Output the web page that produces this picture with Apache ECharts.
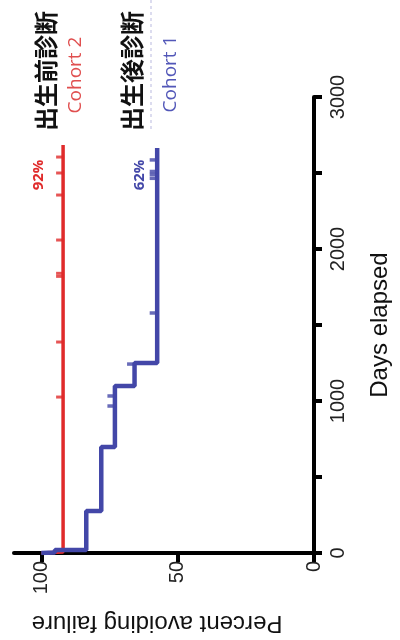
<!DOCTYPE html>
<html><head><meta charset="utf-8">
<script src="https://cdn.jsdelivr.net/npm/echarts@6/dist/echarts.min.js"></script>
<style>html,body{margin:0;padding:0;background:#fff}#c{width:400px;height:640px}</style>
</head><body><div id="c"></div>
<script>
// Kaplan-Meier data (days, percent)
const cohort2Times = [0, 7];
const cohort2Surv = [100, 92];
const cohort2End = 2685;
const cohort2Censor = [1026, 1388, 1820, 1840, 2059, 2355, 2500, 2605];

const cohort1Times = [0, 3, 20, 276, 697, 1099, 1250];
const cohort1Surv = [100, 95, 83.5, 78, 73, 65.8, 57.5];
const cohort1End = 2665;
const cohort1Censor = [967, 1033, 1243, 1579, 2465, 2490, 2510, 2586];

const dayTicks = [0, 1000, 2000, 3000];
const pctTicks = [0, 50, 100];

function stepPath(times, surv, end) {
  const pts = [[surv[0], times[0]]];
  for (let i = 1; i < times.length; i++) {
    pts.push([surv[i - 1], times[i]]);
    pts.push([surv[i], times[i]]);
  }
  pts.push([surv[surv.length - 1], end]);
  return pts;
}
function survAt(times, surv, t) {
  let s = surv[0];
  for (let i = 0; i < times.length; i++) if (times[i] <= t) s = surv[i];
  return s;
}
const RED = '#e02b2b', BLUE = '#4347a8';
const chart = echarts.init(document.getElementById('c'));
chart.setOption({
  animation: false,
  grid: {left: 14, right: 80, top: 97, bottom: 87},
  xAxis: {
    type: 'value', inverse: true, min: 0, max: 110,
    splitLine: {show: false},
    axisLine: {lineStyle: {color: '#000', width: 4}},
    axisTick: {customValues: pctTicks, length: 9, lineStyle: {width: 4, color: '#000'}},
    axisLabel: {customValues: pctTicks, rotate: 90, color: '#222', fontSize: 20, fontFamily: 'Liberation Sans', margin: 8},
    name: 'Percent avoiding failure', nameLocation: 'middle', nameRotate: 180, nameGap: 58,
    nameTextStyle: {fontSize: 24, color: '#111', fontFamily: 'Liberation Sans', padding: [0, 0, 0, 14]}
  },
  yAxis: {
    type: 'value', min: 0, max: 3000, interval: 500, position: 'right',
    splitLine: {show: false},
    axisLine: {lineStyle: {color: '#000', width: 4}},
    axisTick: {length: 8, lineStyle: {width: 4, color: '#000'}},
    axisLabel: {rotate: 90, color: '#222', fontSize: 20, fontFamily: 'Liberation Sans', margin: 14,
      formatter: v => dayTicks.includes(v) ? String(v) : ''},
    name: 'Days elapsed', nameLocation: 'middle', nameRotate: 90, nameGap: 54,
    nameTextStyle: {fontSize: 24, color: '#111', fontFamily: 'Liberation Sans'}
  },
  series: [
    {type: 'line', data: stepPath(cohort2Times, cohort2Surv, cohort2End), showSymbol: false,
      lineStyle: {color: RED, width: 3.5}, z: 3},
    {type: 'line', data: stepPath(cohort1Times, cohort1Surv, cohort1End), showSymbol: false,
      lineStyle: {color: BLUE, width: 4.5}, z: 4},
    {type: 'scatter', data: cohort2Censor.map(t => [survAt(cohort2Times, cohort2Surv, t), t]),
      symbol: 'rect', symbolSize: [8, 3], symbolOffset: [-3, 0], itemStyle: {color: RED}, z: 5},
    {type: 'scatter', data: cohort1Censor.map(t => [survAt(cohort1Times, cohort1Surv, t), t]),
      symbol: 'rect', symbolSize: [9, 3.5], symbolOffset: [-3, 0], itemStyle: {color: BLUE}, z: 5}
  ],
  graphic: [
    {type: 'line', shape: {x1: 151, y1: 0, x2: 151, y2: 132}, style: {stroke: '#b9b9e0', lineWidth: 1, lineDash: [3, 3]}},
    {type: 'text', x: 46, y: 71, rotation: Math.PI / 2, style: {text: '出生前診断', fill: '#111', font: 'bold 24px "Noto Sans CJK JP"', align: 'center', verticalAlign: 'middle'}},
    {type: 'text', x: 76, y: 75, rotation: Math.PI / 2, style: {text: 'Cohort 2', fill: '#e04f4f', font: '19px "Open Sans"', align: 'center', verticalAlign: 'middle'}},
    {type: 'text', x: 39, y: 175, rotation: Math.PI / 2, style: {text: '92%', fill: RED, font: 'bold 15px "Open Sans"', align: 'center', verticalAlign: 'middle'}},
    {type: 'text', x: 132, y: 71, rotation: Math.PI / 2, style: {text: '出生後診断', fill: '#111', font: 'bold 24px "Noto Sans CJK JP"', align: 'center', verticalAlign: 'middle'}},
    {type: 'text', x: 171, y: 74, rotation: Math.PI / 2, style: {text: 'Cohort 1', fill: '#5257b8', font: '19px "Open Sans"', align: 'center', verticalAlign: 'middle'}},
    {type: 'text', x: 140, y: 175, rotation: Math.PI / 2, style: {text: '62%', fill: BLUE, font: 'bold 15px "Open Sans"', align: 'center', verticalAlign: 'middle'}}
  ]
});
</script></body></html>
